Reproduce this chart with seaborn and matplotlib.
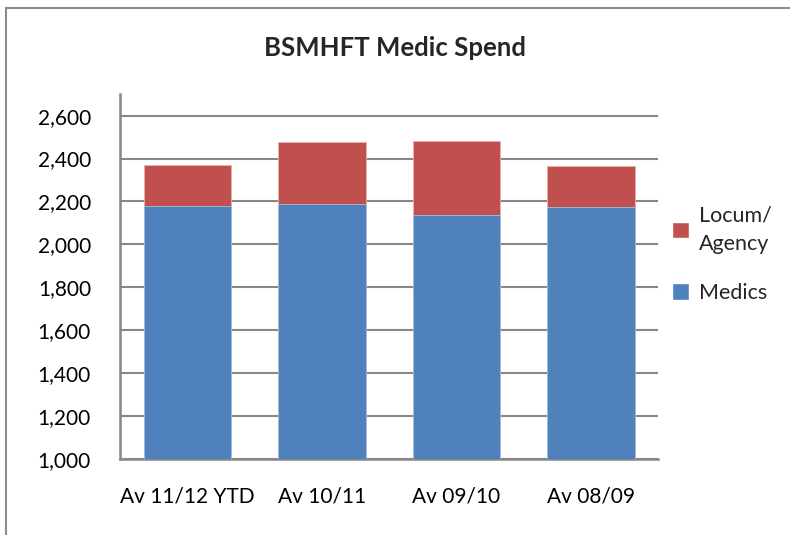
import pandas as pd
import matplotlib.pyplot as plt
import seaborn as sns
from matplotlib.patches import Rectangle, Patch

# Values
periods = ['Av 11/12 YTD', 'Av 10/11', 'Av 09/10', 'Av 08/09']
medics = [2180, 2190, 2135, 2175]
locum = [192, 285, 348, 188]

df = pd.DataFrame({'period': periods, 'medics': medics, 'locum': locum})
df['total'] = df['medics'] + df['locum']

blue = '#4F81BD'
red = '#C0504D'

sns.set_style('white')
plt.rcParams['font.family'] = ['Lato', 'DejaVu Sans']

fig = plt.figure(figsize=(7.9, 5.35), dpi=100)
ax = fig.add_axes([0.152, 0.142, 0.681, 0.682])

# stacked bars: total (red) behind, medics (blue) in front
sns.barplot(x='period', y='total', data=df, color=red, width=0.65,
            saturation=1, edgecolor='#E8B0AE', linewidth=0.6, ax=ax, zorder=3)
sns.barplot(x='period', y='medics', data=df, color=blue, width=0.65,
            saturation=1, edgecolor='#A9C0DE', linewidth=0.6, ax=ax, zorder=4)

ax.set_ylim(1000, 2700)
ax.set_xlim(-0.5, 3.5)
ax.set_yticks(range(1000, 2601, 200))
ax.set_yticklabels([f'{v:,}' for v in range(1000, 2601, 200)])
ax.yaxis.grid(True, color='#878787', linewidth=1.5, zorder=0)
ax.set_axisbelow(True)
ax.tick_params(axis='both', length=0, labelsize=15, colors='black')
ax.tick_params(axis='x', pad=20)
ax.tick_params(axis='y', pad=21)
ax.set_xlabel('')
ax.set_ylabel('')
for s in ['top', 'right']:
    ax.spines[s].set_visible(False)
for s in ['left', 'bottom']:
    ax.spines[s].set_color('#878787')
    ax.spines[s].set_linewidth(1.8)

fig.text(0.5, 0.91, 'BSMHFT Medic Spend', ha='center', va='center',
         fontsize=18.5, fontweight='bold')

handles = [Patch(facecolor=red, label='Locum/\nAgency'),
           Patch(facecolor=blue, label='Medics')]
leg = fig.legend(handles=handles, loc='center left', bbox_to_anchor=(0.826, 0.525),
                 frameon=False, fontsize=15.5, handlelength=0.8, handleheight=0.8,
                 handletextpad=0.45, labelspacing=1.35)
for t in leg.get_texts():
    t.set_linespacing(1.55)

# outer chart border
fig.patches.append(Rectangle((0.007, -0.01), 1.0, 0.995, transform=fig.transFigure,
                             fill=False, edgecolor='#8C8C8C', linewidth=1.5))

fig.savefig('out.png', dpi=100)
